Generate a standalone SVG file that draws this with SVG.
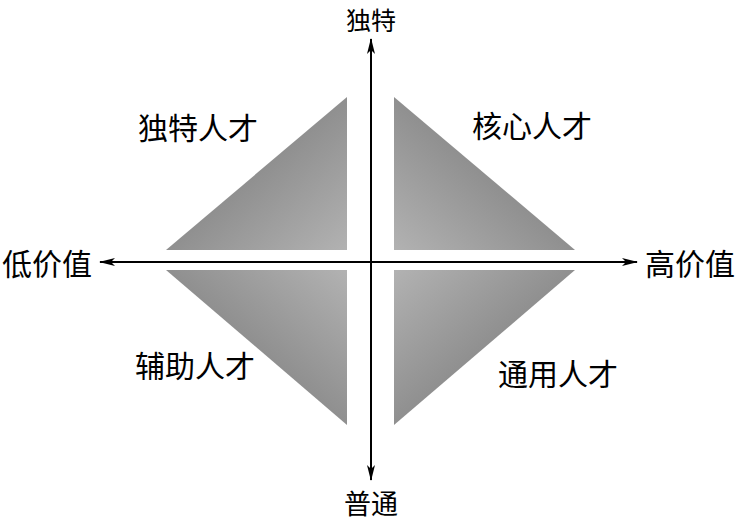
<svg xmlns="http://www.w3.org/2000/svg" width="737" height="522" viewBox="0 0 737 522">
<style>
.t{font-family:"Noto Sans CJK SC","Noto Sans CJK TC",sans-serif;font-size:30px;fill:#000;text-anchor:middle}
.ax{stroke:#000;stroke-width:2;fill:none}
</style>
<defs>
<marker id="ah" viewBox="0 0 16 8" refX="15" refY="4" markerWidth="16" markerHeight="8" markerUnits="userSpaceOnUse" orient="auto">
<path d="M0,0 L16,4 L0,8 L4,4 Z" fill="#000"/>
</marker>
<linearGradient id="gTR" x1="0.55" y1="0.45" x2="0" y2="1"><stop offset="0" stop-color="#8c8c8c"/><stop offset="1" stop-color="#b2b2b2"/></linearGradient>
<linearGradient id="gTL" x1="0.45" y1="0.45" x2="1" y2="1"><stop offset="0" stop-color="#8c8c8c"/><stop offset="1" stop-color="#b2b2b2"/></linearGradient>
<linearGradient id="gBL" x1="0.45" y1="0.55" x2="1" y2="0"><stop offset="0" stop-color="#8c8c8c"/><stop offset="1" stop-color="#b2b2b2"/></linearGradient>
<linearGradient id="gBR" x1="0.55" y1="0.55" x2="0" y2="0"><stop offset="0" stop-color="#8c8c8c"/><stop offset="1" stop-color="#b2b2b2"/></linearGradient>
</defs>
<g id="tri-tl"><polygon points="347,97 166,250 347,250" fill="url(#gTL)"/></g>
<g id="tri-tr"><polygon points="394,97 394,250 575,250" fill="url(#gTR)"/></g>
<g id="tri-bl"><polygon points="166,270 347,270 347,425" fill="url(#gBL)"/></g>
<g id="tri-br"><polygon points="394,270 575,270 394,425" fill="url(#gBR)"/></g>
<g id="connectors">
<line class="ax" x1="371" y1="470" x2="371" y2="39" marker-end="url(#ah)"/>
<line class="ax" x1="371" y1="100" x2="371" y2="480" marker-end="url(#ah)"/>
<line class="ax" x1="371" y1="262" x2="637" y2="262" marker-end="url(#ah)"/>
<line class="ax" x1="371" y1="262" x2="100" y2="262" marker-end="url(#ah)"/>
</g>
<g id="label-top"><text class="t" x="371" y="30" style="font-size:25px">独特</text></g>
<g id="label-bottom"><text class="t" x="371" y="514" style="font-size:27px">普通</text></g>
<g id="label-left"><text class="t" x="47" y="275">低价值</text></g>
<g id="label-right"><text class="t" x="690" y="275">高价值</text></g>
<g id="q-tl"><text class="t" x="198" y="139">独特人才</text></g>
<g id="q-tr"><text class="t" x="532" y="137">核心人才</text></g>
<g id="q-bl"><text class="t" x="195" y="377">辅助人才</text></g>
<g id="q-br"><text class="t" x="558" y="385">通用人才</text></g>
</svg>
